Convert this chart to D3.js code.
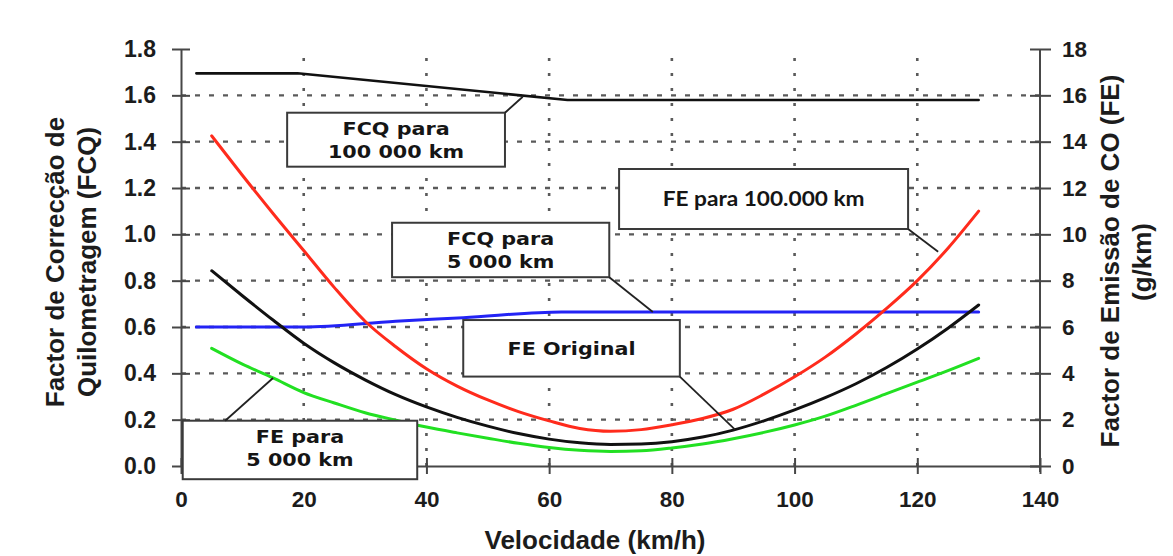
<!DOCTYPE html>
<html>
<head>
<meta charset="utf-8">
<script src="https://cdn.jsdelivr.net/npm/d3@7"></script>
<style>
  html, body { margin: 0; padding: 0; background: #fff; }
  svg { display: block; }
</style>
</head>
<body>
<svg id="chart" width="1173" height="556"></svg>
<script>
// Velocidade (km/h) ticks and the two vertical scales
const speedTicks = [0, 20, 40, 60, 80, 100, 120, 140];
const fcqTicks = [0, 0.2, 0.4, 0.6, 0.8, 1.0, 1.2, 1.4, 1.6, 1.8];
const feTicks = [0, 2, 4, 6, 8, 10, 12, 14, 16, 18];

// FCQ (left axis)
const fcq100kSpeed = [2.5, 19, 63, 130];
const fcq100kValue = [1.695, 1.695, 1.58, 1.58];
const fcq5kSpeed = [2.5, 20, 35, 46, 62, 130];
const fcq5kValue = [0.60, 0.60, 0.625, 0.64, 0.665, 0.665];

// FE in g/km (right axis), sampled every 5 km/h from 5 to 130
const feSpeed = [5, 10, 15, 20, 25, 30, 35, 40, 45, 50, 55, 60, 65, 70, 75, 80, 85, 90, 95, 100, 105, 110, 115, 120, 125, 130];
const fe100kValue = [14.25, 12.55, 10.9, 9.3, 7.7, 6.25, 5.15, 4.2, 3.45, 2.85, 2.35, 1.95, 1.62, 1.5, 1.57, 1.78, 2.05, 2.45, 3.1, 3.85, 4.7, 5.7, 6.8, 8.0, 9.4, 11.0];
const feOrigValue = [8.43, 7.35, 6.3, 5.3, 4.45, 3.72, 3.08, 2.55, 2.1, 1.72, 1.4, 1.16, 1.0, 0.93, 0.95, 1.05, 1.25, 1.55, 1.95, 2.42, 2.95, 3.55, 4.25, 5.05, 5.95, 6.95];
const fe5kValue = [5.08, 4.4, 3.8, 3.17, 2.72, 2.3, 1.98, 1.68, 1.43, 1.2, 0.98, 0.8, 0.68, 0.63, 0.66, 0.78, 0.95, 1.18, 1.45, 1.77, 2.15, 2.62, 3.12, 3.62, 4.12, 4.65];

// Callout texts
const labelFcq100k = ["FCQ para", "100 000 km"];
const labelFcq5k = ["FCQ para", "5 000 km"];
const labelFe100k = ["FE para 100.000 km"];
const labelFeOrig = ["FE Original"];
const labelFe5k = ["FE para", "5 000 km"];

const svg = d3.select("#chart");
const x = d3.scaleLinear().domain([0, 140]).range([181, 1040]);
const yL = d3.scaleLinear().domain([0, 1.8]).range([466, 49]);
const yR = d3.scaleLinear().domain([0, 18]).range([466, 49]);

const gridColor = "#5a5a5a";
const axisColor = "#474747";
const textColor = "#1c1c1c";
const arialFont = "'Liberation Sans', Arial, sans-serif";
const boxFont = "'DejaVu Sans', Verdana, sans-serif";

// dotted grid
const grid = svg.append("g");
grid.selectAll("line.h").data(fcqTicks.filter(d => d > 0 && d < 1.8)).join("line")
  .attr("x1", x(0)).attr("x2", x(140))
  .attr("y1", d => yL(d)).attr("y2", d => yL(d))
  .attr("stroke", gridColor).attr("stroke-width", 2.4)
  .attr("stroke-dasharray", "5,9");
grid.selectAll("line.v").data(speedTicks.filter(d => d > 0 && d < 140)).join("line")
  .attr("x1", d => x(d)).attr("x2", d => x(d))
  .attr("y1", yL(0)).attr("y2", yL(1.8))
  .attr("stroke", gridColor).attr("stroke-width", 2.6)
  .attr("stroke-dasharray", "3,12");

// axes
function styleAxis(g, tickLine, size) {
  g.select(".domain").attr("stroke", axisColor).attr("stroke-width", 2);
  g.selectAll(".tick line").attr("stroke", axisColor).attr("stroke-width", 2).call(tickLine);
  g.selectAll(".tick text").attr("fill", textColor)
    .attr("font-family", arialFont).attr("font-weight", "bold").attr("font-size", size);
}

const axL = svg.append("g").attr("transform", `translate(${x(0)},0)`)
  .call(d3.axisLeft(yL).tickValues(fcqTicks).tickFormat(d3.format(".1f"))
    .tickSizeOuter(0).tickSizeInner(0).tickPadding(25));
styleAxis(axL, l => l.attr("x1", -9).attr("x2", 9), 23);

const axR = svg.append("g").attr("transform", `translate(${x(140)},0)`)
  .call(d3.axisRight(yR).tickValues(feTicks).tickFormat(d3.format("d"))
    .tickSizeOuter(0).tickSizeInner(0).tickPadding(22));
styleAxis(axR, l => l.attr("x1", -10).attr("x2", 11), 22.5);
axR.select(".domain").attr("d", `M0,${yR(18)}V${yR(0) + 6}`);

const axB = svg.append("g").attr("transform", `translate(0,${yL(0)})`)
  .call(d3.axisBottom(x).tickValues(speedTicks).tickFormat(d3.format("d"))
    .tickSizeOuter(0).tickSizeInner(0).tickPadding(27));
styleAxis(axB, l => l.attr("y1", -8).attr("y2", 8), 22.5);
axB.selectAll(".tick text").attr("dy", "0.6em");

// axis titles
function title(tx, ty, rotate, text) {
  svg.append("text")
    .attr("transform", `translate(${tx},${ty})` + (rotate ? " rotate(-90)" : ""))
    .attr("text-anchor", "middle").attr("font-family", arialFont)
    .attr("font-weight", "bold").attr("font-size", 26).attr("fill", textColor)
    .text(text);
}
title(64, 262, true, "Factor de Correcção de");
title(96, 262, true, "Quilometragem (FCQ)");
title(1119, 261, true, "Factor de Emissão de CO (FE)");
title(1151, 262, true, "(g/km)");
title(595, 549, false, "Velocidade (km/h)");

// curves
function series(speeds, values, yScale, color, width, curve) {
  const pts = speeds.map((s, i) => [s, values[i]]);
  svg.append("path").datum(pts)
    .attr("fill", "none").attr("stroke", color).attr("stroke-width", width)
    .attr("stroke-linejoin", "round").attr("stroke-linecap", "round")
    .attr("d", d3.line().x(d => x(d[0])).y(d => yScale(d[1])).curve(curve));
}
series(fcq5kSpeed, fcq5kValue, yL, "#2323f5", 3, d3.curveMonotoneX);
series(feSpeed, fe100kValue, yR, "#ff2b1c", 3, d3.curveMonotoneX);
series(feSpeed, feOrigValue, yR, "#111111", 3, d3.curveMonotoneX);
series(feSpeed, fe5kValue, yR, "#22e022", 3, d3.curveMonotoneX);
series(fcq100kSpeed, fcq100kValue, yL, "#111111", 2.6, d3.curveLinear);

// callout boxes: extent in (km/h, FCQ); leader from a box corner to a point on its curve
const callouts = [
  { lines: labelFcq100k, x0: 17.3, x1: 52.8, top: 1.525, bottom: 1.292,
    from: [52.8, 1.525], to: [55.7, 1.594], toScale: yL, font: boxFont, size: 18.5, sx: 1.12 },
  { lines: labelFcq5k, x0: 34.4, x1: 69.8, top: 1.050, bottom: 0.815,
    from: [69.8, 0.815], to: [76.9, 0.665], toScale: yL, font: boxFont, size: 18.5, sx: 1.12 },
  { lines: labelFe100k, x0: 71.4, x1: 118.5, top: 1.282, bottom: 1.023,
    from: [118.5, 1.023], to: [123.4, 9.25], toScale: yR, font: "Lato, 'Open Sans', sans-serif", size: 20, width: 202 },
  { lines: labelFeOrig, x0: 46.0, x1: 81.3, top: 0.630, bottom: 0.386,
    from: [81.3, 0.386], to: [90.3, 1.57], toScale: yR, font: boxFont, size: 18.5, sx: 1.12 },
  { lines: labelFe5k, x0: 0.28, x1: 38.5, top: 0.1955, bottom: -0.057,
    from: [7.2, 0.1955], to: [15, 3.8], toScale: yR, font: boxFont, size: 18.5, sx: 1.12 }
];

callouts.forEach(c => {
  const bx = x(c.x0), bw = x(c.x1) - x(c.x0);
  const by = yL(c.top), bh = yL(c.bottom) - yL(c.top);
  svg.append("rect")
    .attr("x", bx).attr("y", by).attr("width", bw).attr("height", bh)
    .attr("fill", "#fff").attr("stroke", "#3a3a3a").attr("stroke-width", 2);
  svg.append("line")
    .attr("x1", x(c.from[0])).attr("y1", yL(c.from[1]))
    .attr("x2", x(c.to[0])).attr("y2", c.toScale(c.to[1]))
    .attr("stroke", "#222").attr("stroke-width", 1.8);
  const cx = bx + bw / 2;
  const baselines = c.lines.length === 2
    ? [by + 22.5, by + 45]
    : [by + bh / 2 + 6.5];
  c.lines.forEach((t, i) => {
    const txt = svg.append("text")
      .attr("text-anchor", "middle").attr("font-family", c.font)
      .attr("font-weight", "bold").attr("font-size", c.size).attr("fill", "#151515")
      .text(t);
    const sx = c.width ? c.width / txt.node().getComputedTextLength() : c.sx;
    txt.attr("transform", `translate(${cx},${baselines[i]}) scale(${sx},1)`);
  });
});
</script>
</body>
</html>
